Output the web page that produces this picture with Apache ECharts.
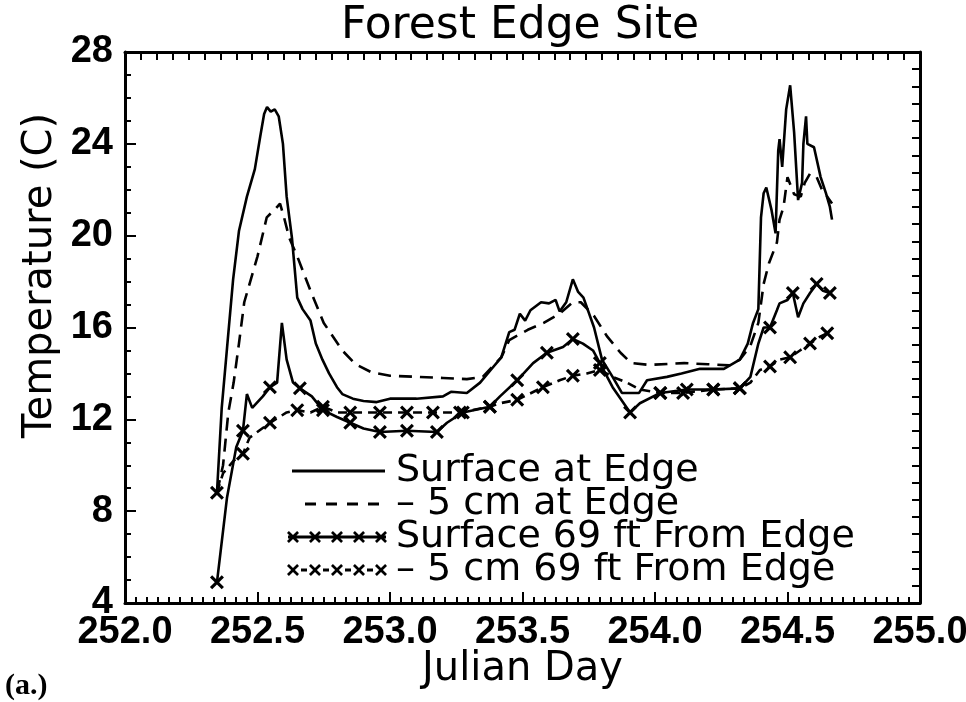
<!DOCTYPE html>
<html>
<head>
<meta charset="utf-8">
<script src="https://cdn.jsdelivr.net/npm/echarts@6/dist/echarts.min.js"></script>
<style>html,body{margin:0;padding:0;background:#fff}#c{width:966px;height:702px}</style>
</head>
<body>
<div id="c"></div>
<script>
// ---------------- data ----------------
const chartTitle = 'Forest Edge Site';
const xName = 'Julian Day';
const yName = 'Temperature (C)';
const panelTag = '(a.)';
const xTickValues = [252.0, 252.5, 253.0, 253.5, 254.0, 254.5, 255.0];
const yTickValues = [4, 8, 12, 16, 20, 24, 28];
const seriesNames = ['Surface at Edge', '– 5 cm at Edge', 'Surface 69 ft From Edge', '– 5 cm 69 ft From Edge'];

// Surface at Edge: [day, temperature]
const surfaceEdge = [
  [252.347,8.8],[252.365,12.5],[252.385,15.1],[252.408,18.1],[252.43,20.2],[252.46,21.7],[252.49,22.9],
  [252.51,24.3],[252.525,25.3],[252.536,25.6],[252.55,25.4],[252.565,25.5],[252.58,25.2],[252.596,24.0],
  [252.61,21.7],[252.63,19.9],[252.65,17.3],[252.67,16.8],[252.70,16.3],[252.72,15.3],[252.745,14.6],
  [252.77,14.0],[252.80,13.4],[252.82,13.1],[252.86,12.9],[252.90,12.8],[252.95,12.75],[253.0,12.9],
  [253.1,12.9],[253.2,13.0],[253.23,13.2],[253.29,13.15],[253.34,13.6],[253.38,14.15],[253.42,14.7],
  [253.45,15.8],[253.47,15.9],[253.49,16.6],[253.51,16.3],[253.53,16.75],[253.57,17.1],[253.60,17.05],
  [253.625,17.2],[253.64,16.7],[253.665,17.1],[253.69,18.1],[253.71,17.55],[253.73,17.3],[253.77,16.0],
  [253.80,14.6],[253.84,13.85],[253.875,13.15],[253.94,13.15],[253.97,13.7],[254.045,13.85],[254.1,14.0],
  [254.17,14.2],[254.26,14.2],[254.32,14.6],[254.35,15.3],[254.37,16.2],[254.39,16.8],[254.40,20.8],
  [254.41,21.85],[254.42,22.1],[254.44,21.1],[254.455,20.1],[254.465,23.7],[254.47,24.2],[254.48,23.0],
  [254.495,25.5],[254.51,26.55],[254.525,24.5],[254.54,21.55],[254.555,22.3],[254.56,24.0],[254.57,25.2],
  [254.575,24.0],[254.60,23.85],[254.625,22.55],[254.645,21.85],[254.66,21.25],[254.668,20.7]
];

// -5 cm at Edge: [day, temperature]
const depthEdge = [
  [252.347,8.8],[252.37,10.0],[252.39,12.3],[252.41,13.6],[252.43,15.3],[252.45,17.1],[252.50,19.1],
  [252.535,20.8],[252.57,21.2],[252.585,21.4],[252.60,20.8],[252.62,19.9],[252.65,19.1],[252.70,17.6],
  [252.75,16.2],[252.82,15.0],[252.87,14.4],[252.93,14.05],[253.0,13.9],[253.1,13.85],[253.2,13.8],
  [253.29,13.75],[253.35,13.85],[253.42,14.7],[253.45,15.45],[253.52,15.9],[253.58,16.2],[253.64,16.6],
  [253.69,17.1],[253.72,17.1],[253.77,16.5],[253.82,15.6],[253.87,14.9],[253.91,14.45],[253.98,14.37],
  [254.11,14.45],[254.2,14.4],[254.28,14.35],[254.32,14.6],[254.36,15.2],[254.39,16.2],[254.41,17.9],
  [254.43,18.8],[254.46,19.7],[254.47,20.7],[254.485,21.25],[254.50,22.55],[254.525,21.8],[254.55,21.7],
  [254.565,22.3],[254.585,22.7],[254.61,22.55],[254.63,22.0],[254.65,21.7],[254.668,21.4]
];

// Surface 69 ft From Edge: [day, temperature, crossMarker(1/0)]
const surface69 = [
  [252.347,4.9,1],[252.385,8.6,0],[252.42,10.8,0],[252.445,11.5,1],[252.46,13.1,0],[252.48,12.5,0],
  [252.52,13.0,0],[252.547,13.4,1],[252.574,13.6,0],[252.592,16.2,0],[252.61,14.6,0],[252.634,13.6,0],
  [252.66,13.35,1],[252.705,13.0,0],[252.747,12.4,1],[252.80,12.1,0],[252.85,11.85,1],[252.90,11.6,0],
  [252.962,11.45,1],[253.064,11.5,1],[253.177,11.45,1],[253.215,11.85,0],[253.275,12.3,1],[253.377,12.55,1],
  [253.415,13.0,0],[253.48,13.7,1],[253.54,14.45,0],[253.592,14.9,1],[253.653,15.15,0],[253.69,15.5,1],
  [253.728,15.3,0],[253.766,15.0,0],[253.792,14.45,1],[253.84,13.4,0],[253.906,12.3,1],[253.943,12.7,0],
  [254.02,13.15,1],[254.12,13.3,1],[254.22,13.3,1],[254.32,13.35,1],[254.36,13.85,0],[254.39,15.3,0],
  [254.41,16.0,0],[254.434,16.0,1],[254.46,16.75,0],[254.47,17.05,0],[254.50,17.2,0],[254.52,17.5,1],
  [254.54,16.45,0],[254.56,17.05,0],[254.585,17.5,0],[254.61,17.9,1],[254.634,17.6,0],[254.66,17.5,1]
];

// -5 cm 69 ft From Edge: [day, temperature, crossMarker(1/0)]
const depth69 = [
  [252.347,8.8,1],[252.37,9.65,0],[252.41,10.2,0],[252.445,10.5,1],[252.47,11.2,0],[252.547,11.85,1],
  [252.61,12.3,0],[252.65,12.4,1],[252.70,12.3,0],[252.747,12.55,1],[252.80,12.3,0],[252.85,12.3,1],
  [252.962,12.3,1],[253.064,12.3,1],[253.162,12.3,1],[253.264,12.3,1],[253.377,12.55,1],[253.415,12.7,0],
  [253.48,12.85,1],[253.577,13.4,1],[253.64,13.7,0],[253.69,13.9,1],[253.743,14.0,0],[253.792,14.15,1],
  [253.84,13.85,0],[253.894,13.6,0],[253.943,13.3,0],[254.02,13.15,1],[254.106,13.15,1],[254.22,13.3,1],
  [254.32,13.35,1],[254.36,13.6,0],[254.396,14.15,0],[254.434,14.3,1],[254.47,14.6,0],[254.51,14.7,1],
  [254.547,15.0,0],[254.585,15.3,1],[254.623,15.6,0],[254.65,15.75,1],[254.66,15.9,0]
];

// ---------------- styling helpers ----------------
function crossPoly(cx, cy, h, t) {
  const p = [[cx-h,cy-h+t],[cx-h+t,cy-h],[cx,cy-t],[cx+h-t,cy-h],[cx+h,cy-h+t],[cx+t,cy],
             [cx+h,cy+h-t],[cx+h-t,cy+h],[cx,cy+t],[cx-h+t,cy+h],[cx-h,cy+h-t],[cx-t,cy]];
  return 'M' + p.map(q => q[0].toFixed(2) + ',' + q[1].toFixed(2)).join(' L') + ' Z ';
}
function bar(x0, x1) {
  return `M${x0},5.6 L${x1},5.6 L${x1},8.4 L${x0},8.4 Z `;
}
const XSYM = 'path://' + crossPoly(6, 6, 6, 1.9);
const BOX = 'M0,0 M107,14 ';
const crossCenters = [9, 31, 53, 75, 97];
const iconSolid = 'path://' + BOX + bar(8, 101);
const iconDash = 'path://' + BOX + bar(21, 32) + bar(42, 53) + bar(63, 74) + bar(84, 95);
const iconCrossSolid = 'path://' + BOX + bar(4, 102) + crossCenters.map(c => crossPoly(c, 7, 6, 1.9)).join('');
const iconCrossDash = 'path://' + BOX + crossCenters.map(c => crossPoly(c, 7, 6, 1.9)).join('') +
  bar(17, 23) + bar(39, 45) + bar(61, 67) + bar(83, 89);

const tickFont = "'Liberation Sans', Arial, sans-serif";
const textFont = "'DejaVu Sans', sans-serif";

function markedData(arr) {
  return arr.map(p => ({ value: [p[0], p[1]], symbol: p[2] ? XSYM : 'none' }));
}

const chart = echarts.init(document.getElementById('c'), null, { renderer: 'canvas' });
const axisLineStyle = { color: '#000', width: 3 };

chart.setOption({
  animation: false,
  backgroundColor: '#fff',
  title: [
    { text: chartTitle, left: 515, top: 0, textAlign: 'center',
      textStyle: { fontFamily: textFont, fontSize: 44, fontWeight: 'normal', color: '#000' } },
    { text: panelTag, left: 0, top: 666,
      textStyle: { fontFamily: "'Liberation Serif', serif", fontSize: 30, fontWeight: 'bold', color: '#000' } }
  ],
  grid: { left: 125, right: 46, top: 52, bottom: 99, containLabel: false, outerBoundsMode: 'none' },
  legend: {
    orient: 'vertical', left: 279, top: 447, itemWidth: 107, itemHeight: 14, itemGap: -5,
    selectedMode: false,
    textStyle: { fontFamily: textFont, fontSize: 38, color: '#000', lineHeight: 34 },
    itemStyle: { color: '#000', borderWidth: 0 },
    data: [
      { name: seriesNames[0], icon: iconSolid },
      { name: seriesNames[1], icon: iconDash },
      { name: seriesNames[2], icon: iconCrossSolid },
      { name: seriesNames[3], icon: iconCrossDash }
    ]
  },
  xAxis: [
    {
      type: 'value', position: 'bottom', min: xTickValues[0], max: xTickValues[xTickValues.length - 1], interval: 0.5,
      name: xName, nameLocation: 'middle', nameGap: 47, nameMoveOverlap: false,
      nameTextStyle: { fontFamily: textFont, fontSize: 40, color: '#000' },
      axisLine: { show: true, lineStyle: axisLineStyle },
      axisTick: { show: true, inside: true, length: 11, lineStyle: { color: '#000', width: 2 } },
      minorTick: { show: true, splitNumber: 12, length: 6, lineStyle: { color: '#000', width: 2 } },
      axisLabel: { margin: 11, fontFamily: tickFont, fontSize: 38, fontWeight: 'bold', color: '#000',
                   formatter: v => v.toFixed(1) },
      splitLine: { show: false }
    },
    {
      type: 'value', position: 'top', min: 252, max: 255, interval: 0.06,
      axisLine: { show: true, lineStyle: axisLineStyle },
      axisTick: { show: true, inside: true, length: 8, lineStyle: { color: '#000', width: 2 } },
      axisLabel: { show: false }, splitLine: { show: false }
    }
  ],
  yAxis: [
    {
      type: 'value', position: 'left', min: yTickValues[0], max: yTickValues[yTickValues.length - 1], interval: 4,
      name: yName, nameLocation: 'middle', nameGap: 64, nameMoveOverlap: false,
      nameTextStyle: { fontFamily: textFont, fontSize: 40, color: '#000', padding: [0, 0, 0, 104] },
      axisLine: { show: true, lineStyle: axisLineStyle },
      axisTick: { show: true, inside: true, length: 11, lineStyle: { color: '#000', width: 2 } },
      minorTick: { show: true, splitNumber: 4, length: 6, lineStyle: { color: '#000', width: 2 } },
      axisLabel: { margin: 12, fontFamily: tickFont, fontSize: 38, fontWeight: 'bold', color: '#000' },
      splitLine: { show: false }
    },
    {
      type: 'value', position: 'right', min: 0, max: 24, interval: 0.75,
      axisLine: { show: true, lineStyle: axisLineStyle },
      axisTick: { show: true, inside: true, length: 8, lineStyle: { color: '#000', width: 2 } },
      axisLabel: { show: false }, splitLine: { show: false }
    }
  ],
  series: [
    { name: seriesNames[0], type: 'line', data: surfaceEdge, symbol: 'none', color: '#000',
      lineStyle: { color: '#000', width: 2.6, type: 'solid' } },
    { name: seriesNames[1], type: 'line', data: depthEdge, symbol: 'none', color: '#000',
      lineStyle: { color: '#000', width: 2.6, type: [13, 8] } },
    { name: seriesNames[2], type: 'line', data: markedData(surface69), symbol: XSYM, symbolSize: 14,
      showSymbol: true, showAllSymbol: true, color: '#000',
      itemStyle: { color: '#000', borderWidth: 0 },
      lineStyle: { color: '#000', width: 2.6, type: 'solid' } },
    { name: seriesNames[3], type: 'line', data: markedData(depth69), symbol: XSYM, symbolSize: 14,
      showSymbol: true, showAllSymbol: true, color: '#000',
      itemStyle: { color: '#000', borderWidth: 0 },
      lineStyle: { color: '#000', width: 2.6, type: [9, 6] } }
  ]
});
</script>
</body>
</html>
